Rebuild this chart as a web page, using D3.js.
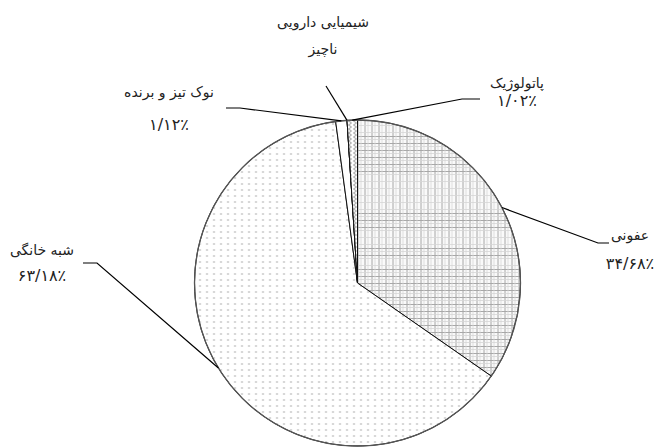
<!DOCTYPE html>
<meta charset="utf-8">
<script src="https://d3js.org/d3.v7.min.js"></script>
<style>
  body { margin: 0; background: #fff; }
  text { font-family: "DejaVu Sans", sans-serif; fill: #222; }
</style>
<div id="chart"></div>
<script>

  // data
  const categories = ["عفونی", "شبه خانگی", "نوک تیز و برنده", "شیمیایی دارویی", "پاتولوژیک"];
  const values = [34.68, 63.18, 1.12, 0, 1.02];
  const valueLabels = ["۳۴/۶۸٪", "۶۳/۱۸٪", "۱/۱۲٪", "ناچیز", "۱/۰۲٪"];
  const fills = ["url(#grid)", "url(#dots)", "#fff", "#fff", "url(#wave)"];

  // label placement: elbow of leader line, end of leader line, text centre
  const labelLayout = [
    {elbow: [598, 243], end: [609, 243], x: 630, y1: 240, y2: 269},
    {elbow: [97, 263],  end: [83, 263],  x: 42,  y1: 255, y2: 281},
    {elbow: [240, 108], end: [226, 108], x: 169, y1: 97,  y2: 130},
    {elbow: [326, 86],  end: [326, 86],  x: 323, y1: 27,  y2: 54},
    {elbow: [462, 99],  end: [480, 99],  x: 517, y1: 88,  y2: 106}
  ];

  const width = 669, height = 448;
  const cx = 357.5, cy = 283, radius = 163;

  const svg = d3.select("#chart")
    .append("svg")
      .attr("width", width)
      .attr("height", height);

  // fill patterns
  const defs = svg.append("defs");

  const grid = defs.append("pattern")
      .attr("id", "grid")
      .attr("patternUnits", "userSpaceOnUse")
      .attr("width", 7).attr("height", 7);
  grid.append("rect").attr("width", 7).attr("height", 7).attr("fill", "#fafafa");
  grid.append("path").attr("d", "M0.5,0V7M0,0.5H7").attr("stroke", "#a8a8a8").attr("stroke-width", 1.1);
  grid.append("path").attr("d", "M3.5,0V7M0,3.5H7").attr("stroke", "#d6d6d6").attr("stroke-width", 0.8);

  const dots = defs.append("pattern")
      .attr("id", "dots")
      .attr("patternUnits", "userSpaceOnUse")
      .attr("width", 7).attr("height", 6);
  dots.append("rect").attr("width", 7).attr("height", 6).attr("fill", "#fff");
  dots.append("circle").attr("cx", 3.5).attr("cy", 3).attr("r", 0.8).attr("fill", "#999");

  const wave = defs.append("pattern")
      .attr("id", "wave")
      .attr("patternUnits", "userSpaceOnUse")
      .attr("width", 5).attr("height", 4);
  wave.append("rect").attr("width", 5).attr("height", 4).attr("fill", "#fff");
  wave.append("path").attr("d", "M4,0L1,2L4,4").attr("fill", "none").attr("stroke", "#777").attr("stroke-width", 0.8);

  const pie = d3.pie().sort(null).value(d => d);
  const arcs = pie(values);

  const arc = d3.arc().innerRadius(0).outerRadius(radius);
  const edge = d3.arc().innerRadius(radius).outerRadius(radius);

  const g = svg.append("g")
      .attr("transform", `translate(${cx},${cy})`);

  g.selectAll("path.slice")
    .data(arcs)
    .join("path")
      .attr("class", "slice")
      .attr("d", arc)
      .attr("fill", (d, i) => fills[i])
      .attr("stroke", "#111")
      .attr("stroke-width", 1)
      .attr("stroke-linejoin", "round");

  // outer rim
  g.append("circle")
      .attr("r", radius)
      .attr("fill", "none")
      .attr("stroke", "#555")
      .attr("stroke-width", 1.3);

  // leader lines, from the rim at the slice's middle angle
  svg.selectAll("polyline.leader")
    .data(arcs)
    .join("polyline")
      .attr("class", "leader")
      .attr("points", (d, i) => {
        const c = edge.centroid(d);
        const l = labelLayout[i];
        return [[c[0] + cx, c[1] + cy], l.elbow, l.end].map(p => p.join(",")).join(" ");
      })
      .attr("fill", "none")
      .attr("stroke", "#000")
      .attr("stroke-width", 1.2);

  const labels = svg.selectAll("g.label")
    .data(categories)
    .join("g")
      .attr("class", "label");

  labels.append("text")
      .attr("x", (d, i) => labelLayout[i].x)
      .attr("y", (d, i) => labelLayout[i].y1)
      .attr("text-anchor", "middle")
      .attr("font-size", 14)
      .text(d => d);

  labels.append("text")
      .attr("x", (d, i) => labelLayout[i].x)
      .attr("y", (d, i) => labelLayout[i].y2)
      .attr("text-anchor", "middle")
      .attr("font-size", (d, i) => i === 3 ? 14 : 16)
      .text((d, i) => valueLabels[i]);

</script>
